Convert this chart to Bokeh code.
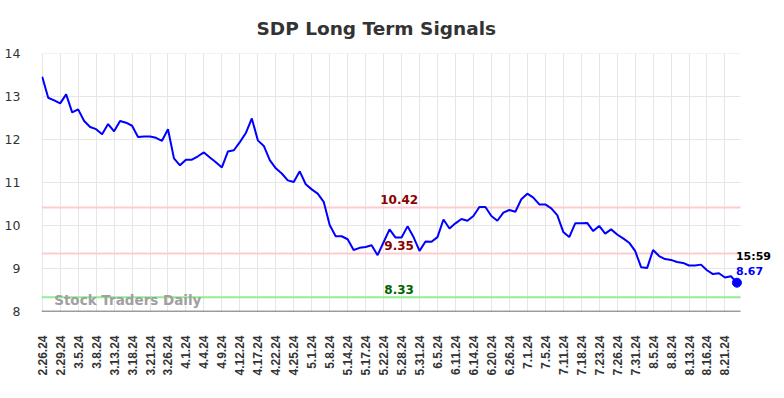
from bokeh.plotting import figure
from bokeh.models import Range1d, FixedTicker, Label
from bokeh.embed import file_html
from bokeh.resources import INLINE

title_text = "SDP Long Term Signals"
date_labels = ["2.26.24", "2.29.24", "3.5.24", "3.8.24", "3.13.24", "3.18.24", "3.21.24",
               "3.26.24", "4.1.24", "4.4.24", "4.9.24", "4.12.24", "4.17.24", "4.22.24",
               "4.25.24", "5.1.24", "5.8.24", "5.14.24", "5.17.24", "5.22.24", "5.28.24",
               "5.31.24", "6.5.24", "6.11.24", "6.14.24", "6.20.24", "6.26.24", "7.1.24",
               "7.5.24", "7.11.24", "7.18.24", "7.23.24", "7.26.24", "7.31.24", "8.5.24",
               "8.8.24", "8.13.24", "8.16.24", "8.21.24"]
label_step = 3

prices = [13.46, 12.97, 12.91, 12.84, 13.05, 12.63, 12.70, 12.43, 12.29, 12.24,
          12.12, 12.36, 12.19, 12.43, 12.39, 12.32, 12.06, 12.07, 12.07, 12.04,
          11.97, 12.24, 11.56, 11.40, 11.53, 11.53, 11.61, 11.70, 11.58, 11.47,
          11.35, 11.72, 11.75, 11.94, 12.15, 12.49, 11.98, 11.85, 11.52, 11.33,
          11.21, 11.05, 11.01, 11.26, 10.96, 10.84, 10.74, 10.55, 10.01, 9.75,
          9.75, 9.68, 9.43, 9.48, 9.50, 9.54, 9.31, 9.61, 9.91, 9.72,
          9.72, 9.98, 9.73, 9.41, 9.63, 9.62, 9.73, 10.14, 9.93, 10.05,
          10.15, 10.11, 10.22, 10.43, 10.43, 10.22, 10.11, 10.30, 10.36, 10.32,
          10.61, 10.74, 10.65, 10.49, 10.49, 10.40, 10.24, 9.85, 9.73, 10.05,
          10.05, 10.06, 9.87, 9.99, 9.81, 9.91, 9.79, 9.70, 9.60, 9.41,
          9.03, 9.01, 9.43, 9.29, 9.22, 9.20, 9.15, 9.13, 9.07, 9.07,
          9.09, 8.96, 8.87, 8.89, 8.79, 8.82, 8.67]

resistance_levels = [10.42, 9.35]
support_levels = [8.33]
last_time = "15:59"
watermark = "Stock Traders Daily"
y_ticks = [8, 9, 10, 11, 12, 13, 14]

x = list(range(len(prices)))
last_i = x[-1]
last_v = prices[-1]

x_start = -0.12
x_plot_end = 116.6      # where grid / axis stop
x_frame_end = 121.94    # extra room on the right for the last-value labels
y_start, y_end = 8, 14
x_ticks = [i * label_step for i in range(len(date_labels))]

p = figure(width=776, height=382, output_backend="svg", toolbar_location=None,
           x_range=Range1d(x_start, x_frame_end), y_range=Range1d(y_start, y_end),
           min_border_left=41, min_border_right=4, min_border_top=53, min_border_bottom=71)
p.outline_line_color = None
p.background_fill_color = "white"

# title
p.title.text = title_text
p.title.text_font = "DejaVu Sans"
p.title.text_font_size = "18.5px"
p.title.text_font_style = "bold"
p.title.text_color = "#333333"
p.title.align = "left"
p.title.offset = 215
p.title.standoff = 29

# grids
p.xgrid.ticker = FixedTicker(ticks=x_ticks)
p.xgrid.grid_line_color = "#e6e6e6"
p.xgrid.grid_line_width = 1
p.ygrid.grid_line_color = None
p.segment(x0=[x_start] * len(y_ticks), x1=[x_plot_end] * len(y_ticks), y0=y_ticks, y1=y_ticks,
          line_color="#e6e6e6", line_width=1)

# x axis
xa = p.xaxis[0]
xa.ticker = FixedTicker(ticks=x_ticks)
xa.major_label_overrides = {t: lab for t, lab in zip(x_ticks, date_labels)}
xa.major_label_orientation = 3.14159265 / 2
xa.major_label_text_font = "Liberation Sans"
xa.major_label_text_font_style = "bold"
xa.major_label_text_font_size = "12px"
xa.major_label_text_color = "#333333"
xa.major_label_standoff = 18
xa.major_tick_line_color = None
xa.minor_tick_line_color = None
xa.axis_line_color = None

# y axis
ya = p.yaxis[0]
ya.ticker = FixedTicker(ticks=y_ticks)
ya.major_label_text_font = "DejaVu Sans"
ya.major_label_text_font_size = "12.5px"
ya.major_label_text_color = "#333333"
ya.major_label_standoff = 15
ya.major_tick_line_color = None
ya.minor_tick_line_color = None
ya.axis_line_color = None

# level lines
label_x = 59.6
for lv in resistance_levels:
    p.segment(x0=[x_start], x1=[x_plot_end], y0=[lv], y1=[lv], line_color="#ffcccc", line_width=2)
    p.add_layout(Label(x=label_x, y=lv, text=f"{lv:.2f}", text_align="center", y_offset=3,
                       text_font="DejaVu Sans", text_font_style="bold", text_font_size="12px",
                       text_color="#8b0000"))
for lv in support_levels:
    p.segment(x0=[x_start], x1=[x_plot_end], y0=[lv], y1=[lv], line_color="#90ee90", line_width=2)
    p.add_layout(Label(x=label_x, y=lv, text=f"{lv:.2f}", text_align="center", y_offset=3,
                       text_font="DejaVu Sans", text_font_style="bold", text_font_size="12px",
                       text_color="#006400"))

# bottom axis line
p.segment(x0=[x_start], x1=[x_plot_end], y0=[y_start], y1=[y_start], line_color="#444444", line_width=1.5)

# watermark
p.add_layout(Label(x=2, y=y_start, text=watermark, text_align="left", y_offset=4,
                   text_font="DejaVu Sans", text_font_style="bold", text_font_size="13.5px",
                   text_color="#a0a0a0"))

# price line
p.line(x, prices, line_color="#0000ff", line_width=2)
p.scatter([last_i], [last_v], size=9, color="#0000ff")

p.add_layout(Label(x=last_i, y=last_v, text=last_time, text_align="left", x_offset=-1, y_offset=20,
                   text_font="DejaVu Sans", text_font_style="bold", text_font_size="11px",
                   text_color="#000000"))
p.add_layout(Label(x=last_i, y=last_v, text=f"{last_v:.2f}", text_align="left", x_offset=-1, y_offset=8,
                   text_font="DejaVu Sans", text_font_style="bold", text_font_size="11px",
                   text_color="#0000ff"))

open("out.html", "w").write(file_html(p, INLINE))
